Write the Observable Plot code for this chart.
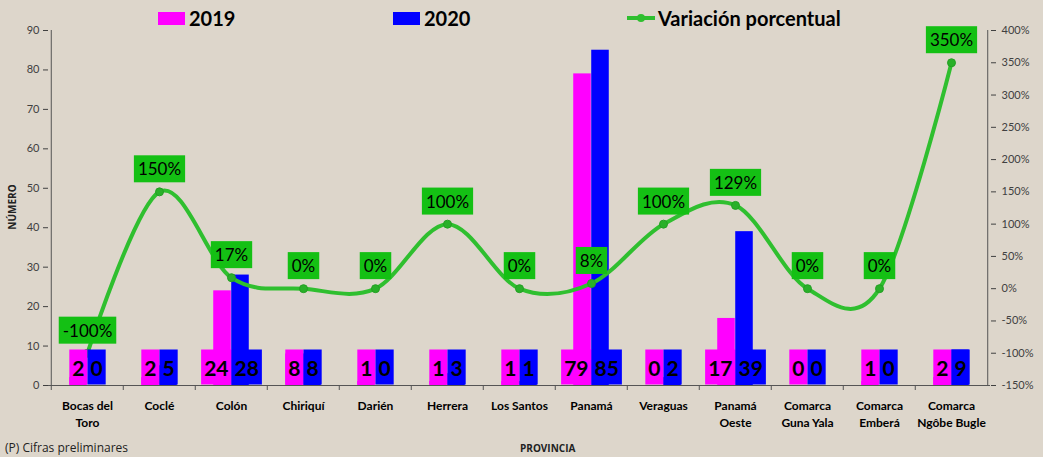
<!DOCTYPE html>
<html><head><meta charset="utf-8">
<script src="https://cdn.jsdelivr.net/npm/d3@7"></script>
<script src="https://cdn.jsdelivr.net/npm/@observablehq/plot@0.6"></script>
<style>
html,body{margin:0;padding:0;background:#ddd6cb;}
body{width:1043px;height:457px;overflow:hidden;position:relative;font-family:Lato,"Open Sans",sans-serif;}
#chart{position:absolute;left:0;top:0;}
#chart svg{overflow:visible;background:transparent;}
.leg{position:absolute;top:6px;height:24px;display:flex;align-items:center;font:bold 20px Lato,sans-serif;color:#000;}
.sw{width:27px;height:13px;margin-right:4px;}
.ln{position:relative;width:28px;height:4px;background:#2fbf2f;margin-right:3px;}
.ln::after{content:"";position:absolute;left:10px;top:-2px;width:8px;height:8px;border-radius:50%;background:#2fbf2f;}
.note{position:absolute;font-family:"Open Sans",Lato,sans-serif;color:#222;}
</style></head>
<body>
<div id="chart"></div>
<div class="leg" style="left:158px"><div class="sw" style="background:#ff00ff"></div>2019</div>
<div class="leg" style="left:393px"><div class="sw" style="background:#0000ff"></div>2020</div>
<div class="leg" style="left:627px"><div class="ln"></div>Variación porcentual</div>
<div class="note" style="left:-18px;top:200px;width:60px;text-align:center;font-size:10px;font-weight:bold;transform:rotate(-90deg);">NÚMERO</div>
<div class="note" style="left:5px;top:439px;font-size:12px;">(P) Cifras preliminares</div>
<div class="note" style="left:520px;top:441px;font-size:10px;font-weight:bold;">PROVINCIA</div>
<script>
const provincias = ["Bocas del\nToro","Coclé","Colón","Chiriquí","Darién","Herrera","Los Santos","Panamá","Veraguas","Panamá\nOeste","Comarca\nGuna Yala","Comarca\nEmberá","Comarca\nNgôbe Bugle"];
const v2019 = [2,2,24,8,1,1,1,79,0,17,0,1,2];
const v2020 = [0,5,28,8,0,3,1,85,2,39,0,0,9];
const variacion = [-100,150,17,0,0,100,0,8,100,129,0,0,350];
const ticksNumero = [0,10,20,30,40,50,60,70,80,90];
const ticksPct = [-150,-100,-50,0,50,100,150,200,250,300,350,400];

const rows = provincias.map((p,i)=>({prov:p, v2019:v2019[i], v2020:v2020[i], pct:variacion[i]}));

const W=1043,H=457,mL=48,mR=53,mT=30,mB=72;
const bw=(W-mL-mR)/provincias.length;
const barW=18;
const pMin=-150,pMax=400,yMax=90;
const toY=p=>(p-pMin)*yMax/(pMax-pMin);
const fromY=y=>Math.round(y*(pMax-pMin)/yMax+pMin);
const green="#2fbf2f", boxGreen="#14c014";

const plot = Plot.plot({
  width:W,height:H,marginLeft:mL,marginRight:mR,marginTop:mT,marginBottom:mB,
  style:{background:"transparent",fontFamily:"Lato, sans-serif",overflow:"visible"},
  x:{domain:provincias,padding:0,label:null},
  y:{domain:[0,yMax],label:null},
  marks:[
    Plot.barY(rows,{x:"prov",y:"v2019",fill:"#ff00ff",insetLeft:bw/2-barW,insetRight:bw/2}),
    Plot.barY(rows,{x:"prov",y:"v2020",fill:"#0000ff",insetLeft:bw/2,insetRight:bw/2-barW}),
    Plot.ruleY([0],{stroke:"#555"}),
    Plot.ruleX([provincias[0]],{dx:-bw/2,stroke:"#555"}),
    Plot.ruleX([provincias[provincias.length-1]],{dx:bw/2,stroke:"#555"}),
    Plot.axisY(ticksNumero,{anchor:"left",tickSize:5,tickPadding:4,fontSize:11,color:"#404040",label:null}),
    Plot.axisY(ticksPct.map(toY),{anchor:"right",tickSize:5,tickPadding:6,fontSize:11,color:"#404040",label:null,tickFormat:d=>fromY(d)+"%"}),
    Plot.axisX({tickSize:5,tickFormat:()=>"",dx:-bw/2,color:"#555",label:null}),
    Plot.axisX({tickSize:0,tickPadding:13,fontSize:12,fontWeight:"bold",lineHeight:1.4,color:"#000",label:null}),
    Plot.line(rows,{x:"prov",y:d=>toY(d.pct),stroke:green,strokeWidth:4,curve:"cardinal"}),
    Plot.dot(rows,{x:"prov",y:d=>toY(d.pct),r:4,fill:"#29b029",stroke:"#23a023",strokeWidth:1}),
    Plot.text(rows,{x:"prov",y:d=>toY(d.pct),text:d=>d.pct+"%",dy:-22,fontSize:17,fill:"#000",ariaDescription:"lblpct"}),
    Plot.text(rows,{x:"prov",text:d=>String(d.v2019),frameAnchor:"bottom",dy:-10,dx:-3,textAnchor:"end",fontSize:21,fontWeight:"bold",fill:"#000",ariaDescription:"lbl2019"}),
    Plot.text(rows,{x:"prov",text:d=>String(d.v2020),frameAnchor:"bottom",dy:-10,dx:3,textAnchor:"start",fontSize:21,fontWeight:"bold",fill:"#000",ariaDescription:"lbl2020"})
  ]
});
document.getElementById("chart").appendChild(plot);

function boxes(desc, fill, padX, padY){
  const g = plot.querySelector(`g[aria-description="${desc}"]`);
  if(!g) return;
  g.querySelectorAll("text").forEach(t=>{
    const b=t.getBBox();
    const r=document.createElementNS("http://www.w3.org/2000/svg","rect");
    r.setAttribute("x",b.x-padX);
    r.setAttribute("y",b.y-padY);
    r.setAttribute("width",b.width+2*padX);
    r.setAttribute("height",b.height+2*padY);
    r.setAttribute("fill",fill);
    r.setAttribute("stroke","none");
    const tr=t.getAttribute("transform");
    if(tr) r.setAttribute("transform",tr);
    g.insertBefore(r,t);
  });
}
boxes("lblpct",boxGreen,4,3);
boxes("lbl2019","#ff00ff",3,5);
boxes("lbl2020","#0000ff",3,5);
</script>
</body></html>
